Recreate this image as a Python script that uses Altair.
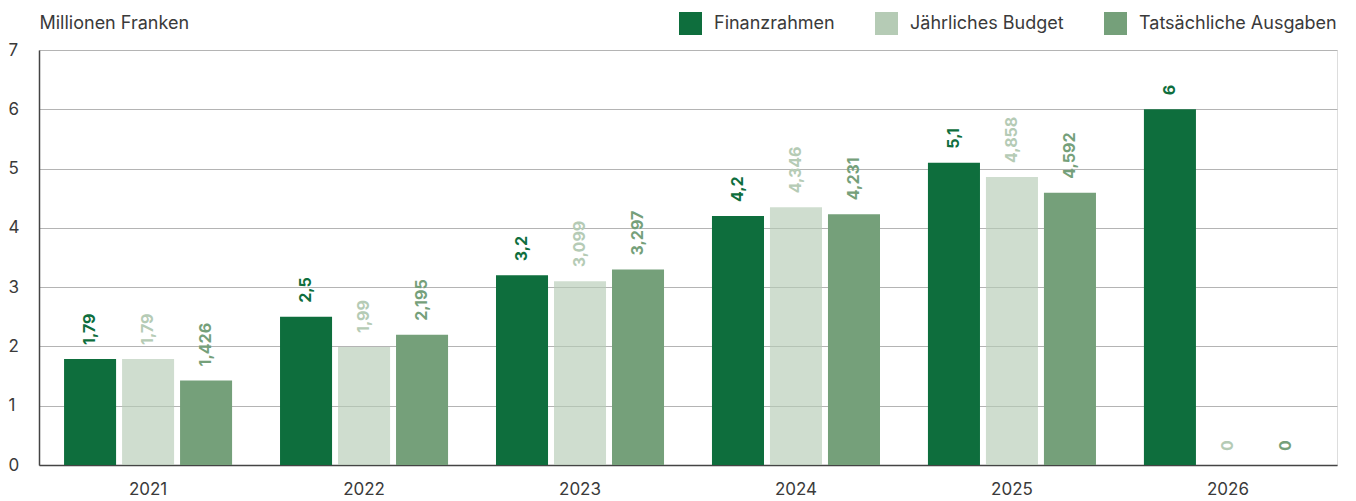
import altair as alt
import pandas as pd

years = ["2021", "2022", "2023", "2024", "2025", "2026"]
series = ["Finanzrahmen", "Jährliches Budget", "Tatsächliche Ausgaben"]
finanzrahmen = [1.79, 2.5, 3.2, 4.2, 5.1, 6]
budget = [1.79, 1.99, 3.099, 4.346, 4.858, 0]
ausgaben = [1.426, 2.195, 3.297, 4.231, 4.592, 0]
colors = ["#0e6e3d", "#b5cbb5", "#75a07a"]

rows = []
for s, vals in zip(series, [finanzrahmen, budget, ausgaben]):
    for y, v in zip(years, vals):
        rows.append({"year": y, "series": s, "value": v,
                     "label": f"{v:g}".replace(".", ",")})
df = pd.DataFrame(rows)

FONT = "Inter"
TXT = "#3a3a3a"

base = alt.Chart(df).encode(
    x=alt.X("year:N", sort=years,
            scale=alt.Scale(paddingInner=0.222, paddingOuter=0.116),
            axis=alt.Axis(title=None, labelAngle=0, labelFontSize=17,
                          labelColor=TXT, labelFont=FONT, ticks=False,
                          domainColor="#444444", domainWidth=1.5, labelPadding=16)),
    xOffset=alt.XOffset("series:N", sort=series,
                        scale=alt.Scale(paddingInner=0.103, paddingOuter=0)),
    color=alt.Color("series:N", sort=series,
                    scale=alt.Scale(domain=series, range=colors),
                    legend=alt.Legend(title=None, orient="none", direction="horizontal",
                                      legendX=640, legendY=-38,
                                      symbolType="square", symbolSize=529,
                                      symbolStrokeWidth=0, symbolOpacity=1,
                                      labelFontSize=18, labelFont=FONT, labelLimit=400,
                                      labelColor=TXT, columnPadding=40,
                                      labelOffset=12)),
)

bars = base.mark_bar().encode(
    y=alt.Y("value:Q", scale=alt.Scale(domain=[0, 7], nice=False),
            axis=alt.Axis(title="Millionen Franken", values=list(range(8)), format="d",
                          labelFontSize=17, labelFont=FONT, labelColor=TXT,
                          ticks=False, labelAlign="left", labelPadding=31,
                          domainColor="#444444", domainWidth=1.5,
                          gridColor="#b4b4b4", gridWidth=1,
                          titleAngle=0, titleAlign="left", titleBaseline="middle",
                          titleX=0, titleY=-27, titleFontSize=18, titleFont=FONT,
                          titleFontWeight="normal", titleColor=TXT)),
    opacity=alt.condition(alt.datum.series == "Jährliches Budget",
                          alt.value(0.65), alt.value(1)),
)

labels = base.mark_text(angle=270, align="left", baseline="middle", dx=14,
                        fontSize=16, fontWeight="bold", font=FONT).encode(
    y=alt.Y("value:Q"),
    text="label:N",
)

chart = alt.layer(bars, labels).properties(
    width=1298, height=415,
).configure_view(stroke=None).configure(padding={"left": 0, "top": 4, "right": 5, "bottom": 5})

chart.save("out.html", embed_options={"renderer": "svg", "actions": False})
